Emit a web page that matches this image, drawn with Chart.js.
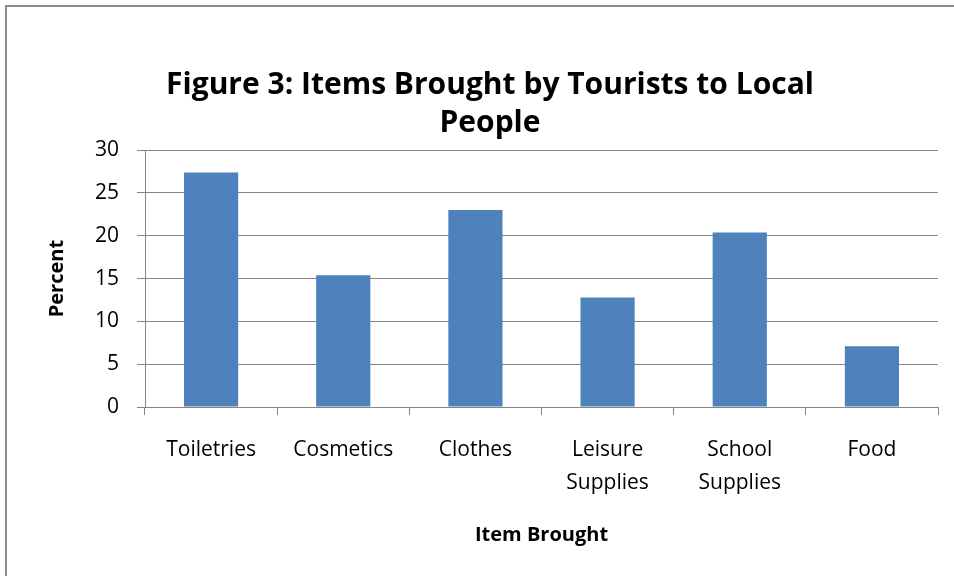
<!DOCTYPE html>
<html>
<head>
<meta charset="utf-8">
<script src="https://cdn.jsdelivr.net/npm/chart.js@4"></script>
<style>
  html, body { margin: 0; padding: 0; background: #fff; }
  #wrap { position: relative; width: 954px; height: 576px; overflow: hidden; }
  #frame { position: absolute; left: 5px; top: 5px; width: 1000px; height: 700px; border: 2px solid #8c8c8c; }
  canvas { position: absolute; left: 0; top: 0; }
</style>
</head>
<body>
<div id="wrap">
  <div id="frame"></div>
  <canvas id="itemsChart" width="954" height="576"></canvas>
</div>
<script>
// values
var categories = ['Toiletries', 'Cosmetics', 'Clothes', ['Leisure', 'Supplies'], ['School', 'Supplies'], 'Food'];
var percents = [27.4, 15.4, 23.0, 12.8, 20.4, 7.1];
var yTicks = [0, 5, 10, 15, 20, 25, 30];

var fontName = "'Open Sans', 'Liberation Sans', sans-serif";
var gridGrey = '#868686';

var ctx = document.getElementById('itemsChart').getContext('2d');
var itemsChart = new Chart(ctx, {
  type: 'bar',
  data: {
    labels: categories,
    datasets: [{
      label: 'Percent',
      data: percents,
      backgroundColor: '#4f81bd',
      borderWidth: 0,
      barPercentage: 0.41,
      categoryPercentage: 1.0
    }]
  },
  options: {
    responsive: false,
    animation: false,
    devicePixelRatio: 1,
    layout: { padding: { left: 42, right: 16, top: 0, bottom: 20 } },
    plugins: {
      legend: { display: false },
      tooltip: { enabled: false },
      title: {
        display: true,
        text: ['Figure 3: Items Brought by Tourists to Local', 'People'],
        color: '#000',
        font: { family: fontName, size: 30, weight: 'bold', lineHeight: 1.27 },
        padding: { top: 66, bottom: 8 }
      }
    },
    scales: {
      y: {
        min: 0,
        max: 30,
        afterBuildTicks: function (scale) {
          scale.ticks = yTicks.map(function (v) { return { value: v }; });
        },
        afterFit: function (scale) { scale.width = 103; },
        ticks: {
          color: '#000',
          padding: 18,
          font: { family: fontName, size: 21 }
        },
        grid: { color: gridGrey, lineWidth: 1, tickLength: 8 },
        border: { display: true, color: gridGrey, width: 1 },
        title: {
          display: true,
          text: 'Percent',
          color: '#000',
          font: { family: fontName, size: 20, weight: 'bold', lineHeight: 1.2 },
          padding: { top: 3, bottom: 0 }
        }
      },
      x: {
        afterFit: function (scale) { scale.height = 149; },
        ticks: {
          color: '#000',
          padding: 19,
          maxRotation: 0,
          autoSkip: false,
          font: { family: fontName, size: 21, lineHeight: 1.55 }
        },
        grid: {
          offset: true,
          drawOnChartArea: false,
          drawTicks: true,
          tickLength: 8,
          color: gridGrey
        },
        border: { display: true, color: gridGrey, width: 1 },
        title: {
          display: true,
          text: 'Item Brought',
          color: '#000',
          font: { family: fontName, size: 20, weight: 'bold', lineHeight: 1.2 },
          padding: { top: 0, bottom: 9 }
        }
      }
    }
  }
});
</script>
</body>
</html>
